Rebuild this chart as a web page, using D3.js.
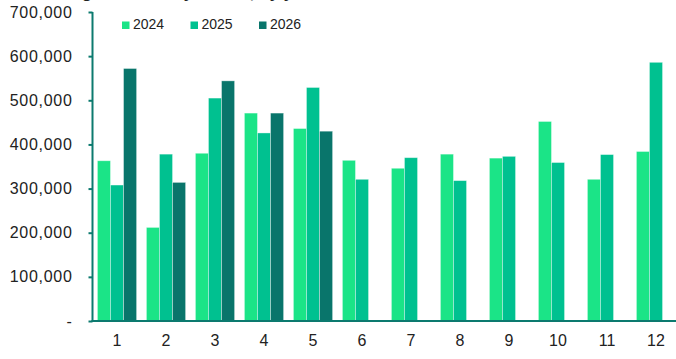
<!DOCTYPE html>
<html>
<head>
  <meta charset="utf-8">
  <title>Monthly volumes by year</title>
  <style>
    body { margin: 0; background: #fff; }
    svg { display: block; font-family: "Liberation Sans", Arial, sans-serif; }
  </style>
</head>
<body>
  <svg width="676" height="359"></svg>
  <script src="https://d3js.org/d3.v7.min.js"></script>
  <script>

  // data
  var months = ["1", "2", "3", "4", "5", "6", "7", "8", "9", "10", "11", "12"];
  var years = ["2024", "2025", "2026"];
  var values2024 = [363000, 212000, 380000, 471000, 436000, 364000, 346000, 378000, 369000, 452000, 321000, 384000];
  var values2025 = [308000, 378000, 505000, 426000, 529000, 321000, 370000, 318000, 373000, 359000, 377000, 586000];
  var values2026 = [572000, 314000, 544000, 471000, 430000, null, null, null, null, null, null, null];
  var yTicks = [0, 100000, 200000, 300000, 400000, 500000, 600000, 700000];
  var colors = ["#1be487", "#00c190", "#09756b"];

  var series = [values2024, values2025, values2026];

  var svg = d3.select("svg");
  var margin = { left: 92.5, top: 12, bottom: 38 };

  var x = d3.scaleBand()
    .domain(months)
    .range([margin.left, margin.left + 12 * 49])
    .paddingInner(0.2)
    .paddingOuter(0.1);

  var x1 = d3.scaleBand()
    .domain(years)
    .range([0, x.bandwidth()]);

  var y = d3.scaleLinear()
    .domain([0, 700000])
    .range([321, 12]);

  // title, mostly cut off by the top edge as in the source
  svg.append("text")
    .attr("x", 60)
    .attr("y", -2.5)
    .attr("font-size", 17)
    .attr("font-weight", "bold")
    .attr("fill", "#222")
    .text("Registrations by month, by year");

  // bars
  var groups = svg.selectAll(".month")
    .data(months)
    .enter()
    .append("g")
    .attr("class", "month")
    .attr("transform", function(d) { return "translate(" + x(d) + ",0)"; });

  groups.selectAll("rect")
    .data(function(d, i) {
      return years.map(function(yr, j) { return { year: yr, value: series[j][i], j: j }; })
        .filter(function(e) { return e.value != null; });
    })
    .enter()
    .append("rect")
    .attr("x", function(d) { return x1(d.year); })
    .attr("y", function(d) { return y(d.value); })
    .attr("width", x1.bandwidth())
    .attr("height", function(d) { return y(0) - y(d.value); })
    .attr("fill", function(d) { return colors[d.j]; })
    .attr("stroke", "#ffffff")
    .attr("stroke-opacity", 0.45)
    .attr("stroke-width", 0.8);

  // y axis
  var yAxis = d3.axisLeft(y)
    .tickValues(yTicks)
    .tickSize(4)
    .tickPadding(16)
    .tickFormat(function(d) { return d === 0 ? "-" : d3.format(",")(d); });

  var gy = svg.append("g")
    .attr("transform", "translate(" + margin.left + ",0)")
    .call(yAxis);
  gy.select(".domain").attr("stroke", "#0c7a6f").attr("stroke-width", 2).attr("d", "M0,12V321");
  gy.selectAll(".tick line").attr("stroke", "#0c7a6f").attr("stroke-width", 2);
  gy.selectAll(".tick text").attr("font-size", 16).attr("fill", "#222")
    .attr("letter-spacing", 0.7)
    .attr("font-family", "'Liberation Sans', Arial, sans-serif");

  // x axis
  var xAxis = d3.axisBottom(x).tickSize(0).tickPadding(14);
  var gx = svg.append("g")
    .attr("transform", "translate(0,321)")
    .call(xAxis);
  gx.select(".domain").attr("stroke", "#0c7a6f").attr("stroke-width", 2)
    .attr("d", "M" + (margin.left - 1) + ",0H676");
  gx.selectAll(".tick text").attr("font-size", 16).attr("fill", "#222")
    .attr("font-family", "'Liberation Sans', Arial, sans-serif");

  // legend
  var legend = svg.append("g")
    .selectAll("g")
    .data(years)
    .enter()
    .append("g")
    .attr("transform", function(d, i) { return "translate(" + (122 + i * 68.5) + ",21.5)"; });

  legend.append("rect")
    .attr("width", 7.5)
    .attr("height", 7.5)
    .attr("fill", function(d, i) { return colors[i]; });

  legend.append("text")
    .attr("x", 11)
    .attr("y", 7.5)
    .attr("font-size", 14)
    .attr("fill", "#222")
    .text(function(d) { return d; });

  </script>
</body>
</html>
